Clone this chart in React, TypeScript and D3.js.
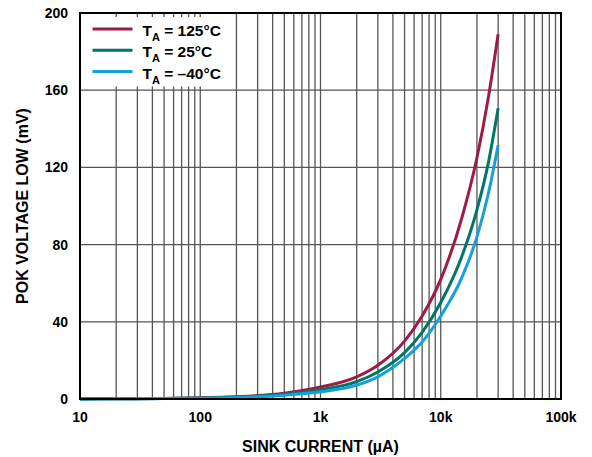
import React from 'react';
import * as d3 from 'd3';

const currents = [10, 20, 50, 100, 200, 500, 1000, 2000, 3000, 5000, 7000, 10000, 15000, 20000, 25000, 30000];
const v125 = [0.06, 0.12, 0.3, 0.6, 1.2, 3, 6.2, 11.5, 17.5, 30, 43, 62, 94, 125, 157, 189];
const v25 = [0.05, 0.1, 0.25, 0.5, 1, 2.5, 4.8, 9, 14, 24, 34.5, 50, 74, 98, 123, 150.6];
const vm40 = [0.04, 0.08, 0.2, 0.4, 0.8, 2, 3.7, 7.2, 11.5, 21, 29.5, 43, 63, 84, 107, 131.5];

const seriesNames = ['125°C', '25°C', '–40°C'];
const seriesColors = ['#9e1b46', '#00766b', '#14a0d8'];
const seriesValues = [v125, v25, vm40];

const xTicks = [10, 100, 1000, 10000, 100000];
const xTickLabels = ['10', '100', '1k', '10k', '100k'];
const yTicks = [0, 40, 80, 120, 160, 200];

const width = 592;
const height = 457;
const margin = { top: 13, right: 31, bottom: 58, left: 80 };
const font = '"Liberation Sans", Arial, sans-serif';

function App() {
  const innerWidth = width - margin.left - margin.right;
  const innerHeight = height - margin.top - margin.bottom;

  const xScale = d3.scaleLog().domain([10, 100000]).range([0, innerWidth]);
  const yScale = d3.scaleLinear().domain([0, 200]).range([innerHeight, 0]);

  const minorTicks: number[] = [];
  for (let dec = 10; dec < 100000; dec *= 10) {
    for (let k = 2; k <= 9; k++) minorTicks.push(dec * k);
  }

  const line = d3
    .line<number>()
    .x((d, i) => xScale(currents[i]))
    .y((d) => yScale(d))
    .curve(d3.curveMonotoneX);

  return (
    <svg width={width} height={height} style={{ position: 'absolute', left: 0, top: 0 }}>
      <rect width={width} height={height} fill="#fff" />
      <g transform={`translate(${margin.left},${margin.top})`}>
        {minorTicks.concat(xTicks).map((t, i) => (
          <line key={'vx' + i} x1={xScale(t)} x2={xScale(t)} y1={0} y2={innerHeight} stroke="#555" strokeWidth={1.3} />
        ))}
        {yTicks.map((t, i) => (
          <line key={'hy' + i} x1={0} x2={innerWidth} y1={yScale(t)} y2={yScale(t)} stroke="#555" strokeWidth={1.3} />
        ))}
        {/* legend background hides the grid */}
        <rect x={1} y={4} width={149} height={69.5} fill="#fff" />
        {seriesValues.map((vals, i) => (
          <path key={'s' + i} d={line(vals) || ''} fill="none" stroke={seriesColors[i]} strokeWidth={3} />
        ))}
        <rect x={0} y={0} width={innerWidth} height={innerHeight} fill="none" stroke="#000" strokeWidth={2} />
        {xTicks.map((t, i) => (
          <text key={'xl' + i} x={xScale(t)} y={innerHeight + 23} textAnchor="middle" fontFamily={font} fontWeight="bold" fontSize={14}>
            {xTickLabels[i]}
          </text>
        ))}
        {yTicks.map((t, i) => (
          <text key={'yl' + i} x={-12} y={yScale(t) + 5} textAnchor="end" fontFamily={font} fontWeight="bold" fontSize={14}>
            {t}
          </text>
        ))}
        <text x={innerWidth / 2} y={innerHeight + 53} textAnchor="middle" fontFamily={font} fontWeight="bold" fontSize={16}>
          SINK CURRENT (µA)
        </text>
        <text
          transform={`translate(${-52},${innerHeight / 2}) rotate(-90)`}
          textAnchor="middle"
          fontFamily={font}
          fontWeight="bold"
          fontSize={16}
        >
          POK VOLTAGE LOW (mV)
        </text>
        <g>
          {seriesNames.map((name, i) => (
            <g key={'lg' + i} transform={`translate(12.5,${16 + i * 21.3})`}>
              <line x1={0} x2={40} y1={0} y2={0} stroke={seriesColors[i]} strokeWidth={3} />
              <text x={50} y={7} fontFamily={font} fontWeight="bold" fontSize={15.5}>
                T
                <tspan fontSize={11} dy={5}>A</tspan>
                <tspan dy={-5}> = {name}</tspan>
              </text>
            </g>
          ))}
        </g>
      </g>
    </svg>
  );
}

export default App;
